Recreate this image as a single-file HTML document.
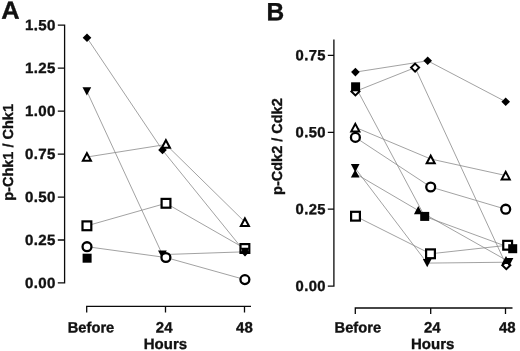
<!DOCTYPE html>
<html><head><meta charset="utf-8"><title>Figure</title>
<style>
html,body{margin:0;padding:0;background:#fff;}
body{width:520px;height:351px;overflow:hidden;}
svg{display:block;filter:grayscale(1);}
text{font-family:"Liberation Sans",sans-serif;font-weight:bold;fill:#111;stroke:#111;stroke-width:0.35px;stroke-linejoin:round;text-rendering:geometricPrecision;}
</style></head><body>
<svg width="520" height="351" viewBox="0 0 520 351">
<rect width="520" height="351" fill="#fff"/>
<g>
<polyline points="87,37.8 162.4,150 245,252.1" fill="none" stroke="#8a8a8a" stroke-width="0.8"/>
<polyline points="87,91.5 162.4,254.6 245,251.8" fill="none" stroke="#8a8a8a" stroke-width="0.8"/>
<polyline points="87,157 165.9,144.5 244.9,222" fill="none" stroke="#8a8a8a" stroke-width="0.8"/>
<polyline points="86.9,225.8 166,203.3 244.9,248.5" fill="none" stroke="#8a8a8a" stroke-width="0.8"/>
<polyline points="87,246.7 165.9,257.5 244.9,279.6" fill="none" stroke="#8a8a8a" stroke-width="0.8"/>
<path d="M57.8 25.15H64.6V282.97H57.8M57.8 68.12H64.6M57.8 111.09H64.6M57.8 154.06H64.6M57.8 197.03H64.6M57.8 240.00H64.6" fill="none" stroke="#0a0a0a" stroke-width="1.3"/>
<path d="M86.7 312.4V306.3H251M165.5 306.3V312.4M244.5 306.3V312.4" fill="none" stroke="#0a0a0a" stroke-width="1.3"/>
<path d="M87 33.5L91.3 37.8L87 42.1L82.7 37.8Z" fill="#000"/>
<path d="M82.5 87.35L91.2 87.35L86.85 95.55Z" fill="#000"/>
<path d="M82.85 160.8L90.95 160.8L86.9 153.2Z" fill="#fff" stroke="#000" stroke-width="2" stroke-linejoin="miter"/>
<rect x="82.5" y="221.4" width="8.8" height="8.8" fill="#fff" stroke="#000" stroke-width="2.2"/>
<circle cx="87" cy="246.7" r="4.45" fill="#fff" stroke="#000" stroke-width="2.3"/>
<rect x="82.6" y="253.7" width="9" height="9" fill="#000"/>
<path d="M162.5 145.7L166.8 150L162.5 154.3L158.2 150Z" fill="#000"/>
<path d="M161.85 147.8L169.95 147.8L165.9 140.2Z" fill="#fff" stroke="#000" stroke-width="2" stroke-linejoin="miter"/>
<rect x="161.6" y="198.9" width="8.8" height="8.8" fill="#fff" stroke="#000" stroke-width="2.2"/>
<path d="M158.05 250.5L166.75 250.5L162.4 258.7Z" fill="#000"/>
<circle cx="165.9" cy="257.5" r="4.45" fill="#fff" stroke="#000" stroke-width="2.3"/>
<path d="M240.85 226.1L248.95 226.1L244.9 218.5Z" fill="#fff" stroke="#000" stroke-width="2" stroke-linejoin="miter"/>
<rect x="240.5" y="244.1" width="8.8" height="8.8" fill="#fff" stroke="#000" stroke-width="2.2"/>
<path d="M245 247.8L249.3 252.1L245 256.4L240.7 252.1Z" fill="#000"/>
<path d="M240.65 247.7L249.35 247.7L245 255.9Z" fill="#000"/>
<circle cx="244.9" cy="279.6" r="4.45" fill="#fff" stroke="#000" stroke-width="2.3"/>
<polyline points="355.4,72.1 427.7,60.8 505.7,101.7" fill="none" stroke="#8a8a8a" stroke-width="0.8"/>
<polyline points="355.6,86.8 424.7,216.4 512.7,248.7" fill="none" stroke="#8a8a8a" stroke-width="0.8"/>
<polyline points="355.4,91.4 415.1,67.6 506.3,265.2" fill="none" stroke="#8a8a8a" stroke-width="0.8"/>
<polyline points="355.3,127.3 430.7,159 505.7,175.5" fill="none" stroke="#8a8a8a" stroke-width="0.8"/>
<polyline points="355.4,137.4 430.7,187 505.7,209.2" fill="none" stroke="#8a8a8a" stroke-width="0.8"/>
<polyline points="355.2,168.2 427.2,263.1 509,262.2" fill="none" stroke="#8a8a8a" stroke-width="0.8"/>
<polyline points="355.2,173.5 418.3,210.5 506,260" fill="none" stroke="#8a8a8a" stroke-width="0.8"/>
<polyline points="355.5,216.2 430.5,253.8 507.65,245.25" fill="none" stroke="#8a8a8a" stroke-width="0.8"/>
<path d="M333.9 39.6V286.10H327.8M327.8 55.40H333.9M327.8 132.30H333.9M327.8 209.20H333.9" fill="none" stroke="#0a0a0a" stroke-width="1.3"/>
<path d="M355.3 314V308H512.5M430.7 308V314M505.5 308V314" fill="none" stroke="#0a0a0a" stroke-width="1.3"/>
<path d="M355.4 67.8L359.7 72.1L355.4 76.4L351.1 72.1Z" fill="#000"/>
<path d="M355.4 87.4L359.4 91.4L355.4 95.4L351.4 91.4Z" fill="#fff" stroke="#000" stroke-width="2.0" stroke-linejoin="miter"/>
<rect x="351.1" y="82.3" width="9" height="9" fill="#000"/>
<path d="M351.25 131.4L359.35 131.4L355.3 123.8Z" fill="#fff" stroke="#000" stroke-width="2" stroke-linejoin="miter"/>
<circle cx="355.4" cy="137.4" r="4.45" fill="#fff" stroke="#000" stroke-width="2.3"/>
<path d="M350.85 164.1L359.55 164.1L355.2 172.3Z" fill="#000"/>
<path d="M350.85 177.6L359.55 177.6L355.2 169.4Z" fill="#000"/>
<rect x="351.1" y="211.8" width="8.8" height="8.8" fill="#fff" stroke="#000" stroke-width="2.2"/>
<path d="M415.1 63.6L419.1 67.6L415.1 71.6L411.1 67.6Z" fill="#fff" stroke="#000" stroke-width="2.0" stroke-linejoin="miter"/>
<path d="M427.7 56.5L432.0 60.8L427.7 65.1L423.4 60.8Z" fill="#000"/>
<path d="M426.65 163.3L434.75 163.3L430.7 155.7Z" fill="#fff" stroke="#000" stroke-width="2" stroke-linejoin="miter"/>
<circle cx="430.7" cy="187" r="4.45" fill="#fff" stroke="#000" stroke-width="2.3"/>
<path d="M413.95 214.3L422.65 214.3L418.3 206.1Z" fill="#000"/>
<rect x="420.2" y="211.9" width="9" height="9" fill="#000"/>
<rect x="426.1" y="249.4" width="8.8" height="8.8" fill="#fff" stroke="#000" stroke-width="2.2"/>
<path d="M422.85 259.0L431.55 259.0L427.2 267.2Z" fill="#000"/>
<path d="M505.7 97.4L510.0 101.7L505.7 106.0L501.4 101.7Z" fill="#000"/>
<path d="M501.65 179.4L509.75 179.4L505.7 171.8Z" fill="#fff" stroke="#000" stroke-width="2" stroke-linejoin="miter"/>
<circle cx="505.7" cy="209.2" r="4.45" fill="#fff" stroke="#000" stroke-width="2.3"/>
<rect x="503.25" y="240.85" width="8.8" height="8.8" fill="#fff" stroke="#000" stroke-width="2.2"/>
<rect x="508.2" y="244.2" width="9" height="9" fill="#000"/>
<path d="M506.3 261.2L510.3 265.2L506.3 269.2L502.3 265.2Z" fill="#fff" stroke="#000" stroke-width="2.0" stroke-linejoin="miter"/>
<path d="M501.65 264.1L510.35 264.1L506 255.9Z" fill="#000"/>
<path d="M504.7 258.1L513.4 258.1L509.05 266.3Z" fill="#000"/>
</g>
<g>
<text letter-spacing="0" transform="translate(1.2,18.8) skewY(0.05) scale(1.03,1)" font-size="24.7" text-anchor="start">A</text>
<text letter-spacing="0" transform="translate(266.5,20.2) skewY(0.05) scale(0.98,1)" font-size="25" text-anchor="start">B</text>
<text letter-spacing="0.4" transform="translate(55.9,30.15) skewY(0.05) scale(1.02,1)" font-size="14.8" text-anchor="end">1.50</text>
<text letter-spacing="0.4" transform="translate(55.9,73.12) skewY(0.05) scale(1.02,1)" font-size="14.8" text-anchor="end">1.25</text>
<text letter-spacing="0.4" transform="translate(55.9,116.09) skewY(0.05) scale(1.02,1)" font-size="14.8" text-anchor="end">1.00</text>
<text letter-spacing="0.4" transform="translate(55.9,159.06) skewY(0.05) scale(1.02,1)" font-size="14.8" text-anchor="end">0.75</text>
<text letter-spacing="0.4" transform="translate(55.9,202.03) skewY(0.05) scale(1.02,1)" font-size="14.8" text-anchor="end">0.50</text>
<text letter-spacing="0.4" transform="translate(55.9,245.0) skewY(0.05) scale(1.02,1)" font-size="14.8" text-anchor="end">0.25</text>
<text letter-spacing="0.4" transform="translate(55.9,287.97) skewY(0.05) scale(1.02,1)" font-size="14.8" text-anchor="end">0.00</text>
<text letter-spacing="0.4" transform="translate(326.0,60.35) skewY(0.05) scale(1.0,1)" font-size="14.8" text-anchor="end">0.75</text>
<text letter-spacing="0.4" transform="translate(326.0,137.25) skewY(0.05) scale(1.0,1)" font-size="14.8" text-anchor="end">0.50</text>
<text letter-spacing="0.4" transform="translate(326.0,214.15) skewY(0.05) scale(1.0,1)" font-size="14.8" text-anchor="end">0.25</text>
<text letter-spacing="0.4" transform="translate(326.0,291.05) skewY(0.05) scale(1.0,1)" font-size="14.8" text-anchor="end">0.00</text>
<text letter-spacing="0" transform="translate(91,332.45) skewY(0.05) scale(0.98,1)" font-size="15" text-anchor="middle">Before</text>
<text letter-spacing="0" transform="translate(164.2,332.45) skewY(0.05) scale(1,1)" font-size="15" text-anchor="middle">24</text>
<text letter-spacing="0" transform="translate(244.4,332.45) skewY(0.05) scale(1,1)" font-size="15" text-anchor="middle">48</text>
<text letter-spacing="0" transform="translate(165.4,349.0) skewY(0.05) scale(1,1)" font-size="15" text-anchor="middle">Hours</text>
<text letter-spacing="0" transform="translate(357.8,332.45) skewY(0.05) scale(0.98,1)" font-size="15" text-anchor="middle">Before</text>
<text letter-spacing="0" transform="translate(432.3,332.45) skewY(0.05) scale(1,1)" font-size="15" text-anchor="middle">24</text>
<text letter-spacing="0" transform="translate(507.3,332.45) skewY(0.05) scale(1,1)" font-size="15" text-anchor="middle">48</text>
<text letter-spacing="0" transform="translate(432.7,349.0) skewY(0.05) scale(1,1)" font-size="15" text-anchor="middle">Hours</text>
<text transform="translate(13.2,152.4) rotate(-90)" font-size="14.5" text-anchor="middle">p-Chk1 / Chk1</text>
<text transform="translate(282,146.6) rotate(-90)" font-size="14.5" text-anchor="middle">p-Cdk2 / Cdk2</text>
</g>
</svg>
</body></html>
